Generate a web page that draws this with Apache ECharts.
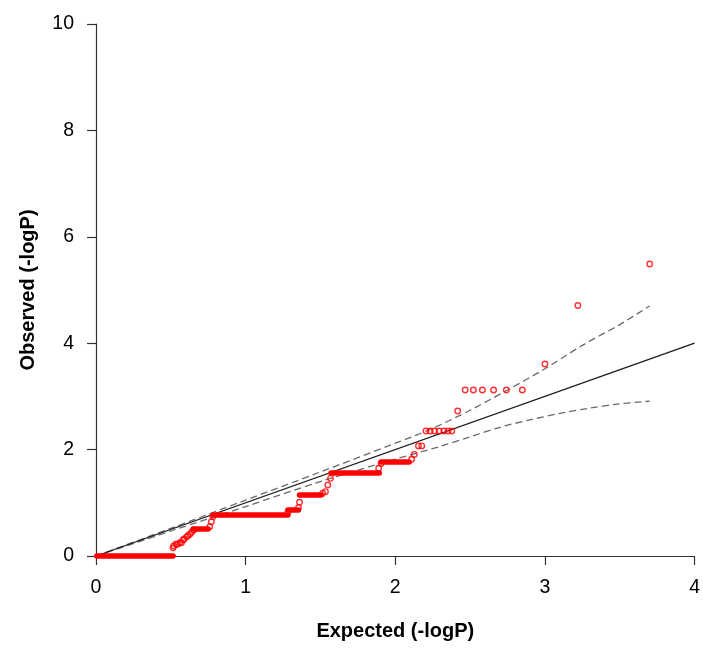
<!DOCTYPE html>
<html>
<head>
<meta charset="utf-8">
<script src="https://cdn.jsdelivr.net/npm/echarts@6/dist/echarts.min.js"></script>
<style>
  html, body { margin: 0; padding: 0; background: #ffffff; }
  #chart { width: 703px; height: 649px; }
</style>
</head>
<body>
<div id="chart"></div>
<script>
// ---- Data ----
const xTicks = [0, 1, 2, 3, 4];
const yTicks = [0, 2, 4, 6, 8, 10];

// expected = observed reference line
const diagonal = [[0, 0], [4, 4]];

// upper / lower confidence bands (dashed)
const upperBand = [[0, 0], [0.5, 0.52], [1, 1.05], [1.5, 1.58], [2.0, 2.12], [2.25, 2.40],
  [2.5, 2.74], [2.75, 3.12], [3.0, 3.52], [3.25, 3.96], [3.5, 4.35], [3.7, 4.7]];
const lowerBand = [[0, 0], [0.5, 0.47], [1, 0.93], [1.5, 1.4], [2.0, 1.82], [2.3, 2.06],
  [2.5, 2.24], [2.7, 2.42], [2.9, 2.56], [3.1, 2.68], [3.3, 2.78], [3.5, 2.86], [3.7, 2.91]];

// runs of tied observed values drawn as dense, overlapping circles: [xStart, xEnd, y]
const tiedRuns = [
  [0.005, 0.515, 0],
  [0.649, 0.749, 0.51],
  [0.782, 1.282, 0.77],
  [1.282, 1.353, 0.865],
  [1.36, 1.504, 1.147],
  [1.571, 1.893, 1.566],
  [1.905, 2.093, 1.78]
];

// individual observed points [expected, observed]
const observedPoints = [
  [0.515, 0.156], [0.52, 0.19], [0.533, 0.22], [0.545, 0.22], [0.56, 0.25], [0.571, 0.25],
  [0.582, 0.30], [0.59, 0.32], [0.605, 0.36], [0.615, 0.38], [0.627, 0.41], [0.64, 0.45], [0.653, 0.49],
  [0.76, 0.55], [0.771, 0.645], [0.782, 0.74],
  [1.282, 0.82], [1.353, 0.91], [1.36, 1.01],
  [1.515, 1.18], [1.533, 1.21], [1.549, 1.335], [1.567, 1.46],
  [1.889, 1.65], [1.905, 1.74],
  [2.109, 1.82], [2.127, 1.91], [2.155, 2.07], [2.177, 2.07],
  [2.205, 2.35], [2.233, 2.35], [2.262, 2.35], [2.293, 2.35], [2.325, 2.35], [2.353, 2.35], [2.378, 2.35],
  [2.417, 2.725],
  [2.467, 3.12], [2.522, 3.12], [2.582, 3.12], [2.657, 3.12], [2.742, 3.12], [2.849, 3.12],
  [3.0, 3.61], [3.22, 4.71], [3.70, 5.49]
];

const xTitle = 'Expected (-logP)';
const yTitle = 'Observed (-logP)';

// ---- Chart ----
const chart = echarts.init(document.getElementById('chart'), null, { renderer: 'canvas' });
const FONT = 'Liberation Sans, Arial, sans-serif';
const RED = '#ff0000';

const option = {
  backgroundColor: '#ffffff',
  animation: false,
  grid: { left: 96, right: 7, top: 24, bottom: 93, containLabel: false },
  xAxis: {
    type: 'value',
    min: xTicks[0], max: xTicks[xTicks.length - 1], interval: 1,
    name: xTitle, nameLocation: 'middle', nameGap: 65,
    nameTextStyle: { fontFamily: FONT, fontSize: 20, fontWeight: 'bold', color: '#000' },
    axisLine: { show: true, onZero: false, lineStyle: { color: '#333', width: 1.2 } },
    axisTick: { show: true, inside: false, length: 9, lineStyle: { color: '#333', width: 1.2 } },
    axisLabel: { fontFamily: FONT, fontSize: 19.5, color: '#000', margin: 22 },
    splitLine: { show: false }
  },
  yAxis: {
    type: 'value',
    min: yTicks[0], max: yTicks[yTicks.length - 1], interval: 2,
    name: yTitle, nameLocation: 'middle', nameGap: 58,
    nameTextStyle: { fontFamily: FONT, fontSize: 20, fontWeight: 'bold', color: '#000' },
    axisLine: { show: true, onZero: false, lineStyle: { color: '#333', width: 1.2 } },
    axisTick: { show: true, inside: false, length: 9, lineStyle: { color: '#333', width: 1.2 } },
    axisLabel: { fontFamily: FONT, fontSize: 19.5, color: '#000', margin: 22 },
    splitLine: { show: false }
  },
  series: [
    {
      type: 'line', data: upperBand, showSymbol: false, smooth: 0.3, clip: false,
      lineStyle: { color: '#6a6a6a', width: 1.3, type: [7, 4] }, z: 3
    },
    {
      type: 'line', data: lowerBand, showSymbol: false, smooth: 0.3, clip: false,
      lineStyle: { color: '#6a6a6a', width: 1.3, type: [7, 4] }, z: 3
    },
    {
      type: 'line', data: diagonal, showSymbol: false, clip: false,
      lineStyle: { color: '#1a1a1a', width: 1.3 }, z: 3
    },
    {
      type: 'lines', coordinateSystem: 'cartesian2d', polyline: false, clip: false,
      data: tiedRuns.map(r => ({ coords: [[r[0], r[2]], [r[1], r[2]]] })),
      lineStyle: { color: RED, width: 5.5, cap: 'round', opacity: 1 }, z: 4
    },
    {
      type: 'scatter', data: observedPoints, symbol: 'circle', symbolSize: 5.5, clip: false,
      itemStyle: { color: 'rgba(0,0,0,0)', borderColor: RED, borderWidth: 1.4 }, z: 5
    }
  ]
};
chart.setOption(option);
</script>
</body>
</html>
